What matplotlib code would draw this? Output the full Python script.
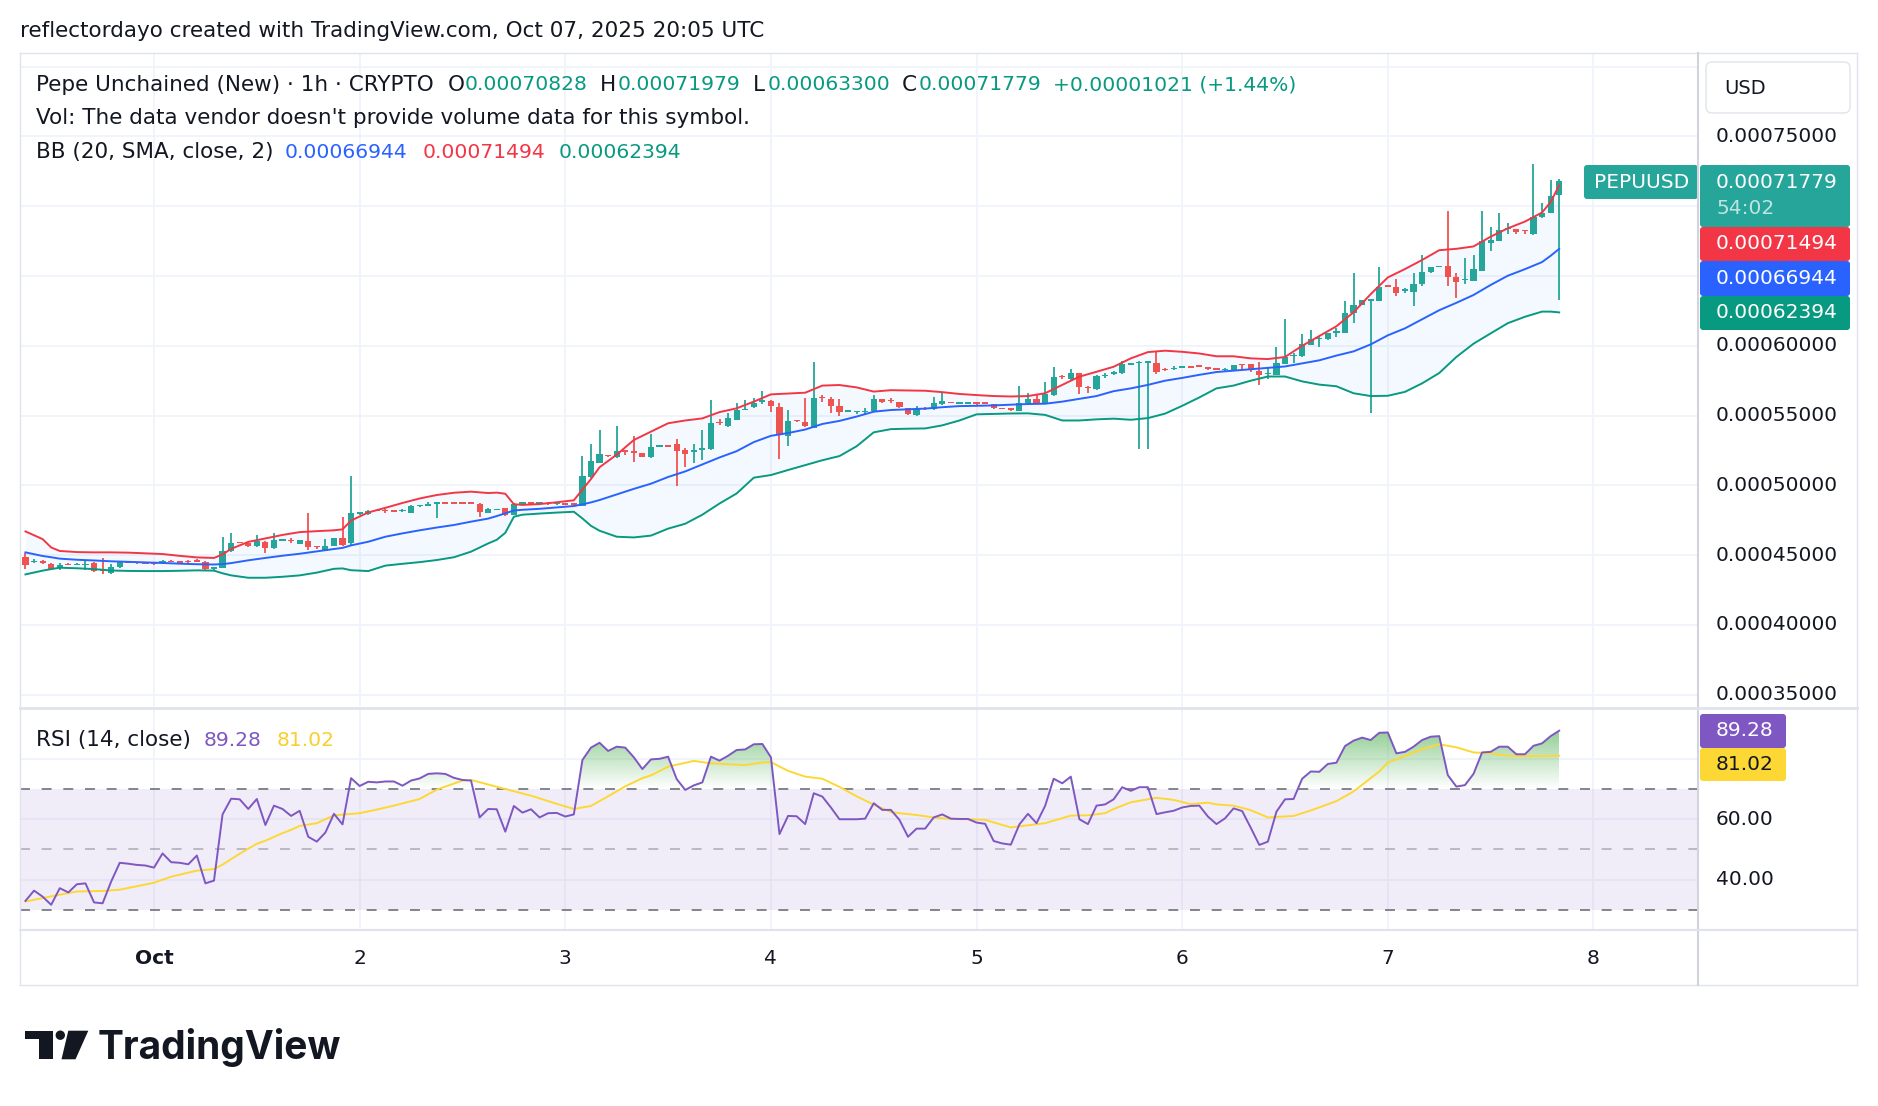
import numpy as np
import pandas as pd
import matplotlib
matplotlib.use("Agg")
import matplotlib.pyplot as plt
import matplotlib.dates as mdates
from matplotlib.patches import FancyBboxPatch, Polygon, Circle, PathPatch
from matplotlib.path import Path
from matplotlib.lines import Line2D
from matplotlib.transforms import IdentityTransform, blended_transform_factory

plt.rcParams["font.family"] = ["DejaVu Sans"]

# hourly PEPUUSD bars from 2025-09-30 09:00 UTC, prices in units of 1e-5 USD
opens = [44.89, 44.50, 44.58, 44.38, 44.08, 44.36, 44.33, 44.30, 44.41, 43.93,
         43.69, 44.12, 44.53, 44.50, 44.46, 44.45, 44.45, 44.58, 44.55, 44.58,
         44.65, 44.53, 44.05, 44.10, 45.30, 45.94, 45.84, 45.65, 45.96, 45.49,
         46.06, 46.06, 45.80, 46.01, 45.63, 45.32, 45.68, 46.20, 45.84, 47.97,
         47.95, 48.22, 48.22, 48.18, 48.18, 48.04, 48.52, 48.58, 48.66, 48.76,
         48.74, 48.75, 48.74, 48.66, 48.04, 48.28, 48.35, 47.87, 48.68, 48.74,
         48.70, 48.74, 48.68, 48.72, 48.68, 48.54, 50.57, 51.62, 52.17, 52.00,
         52.50, 52.48, 52.29, 52.00, 52.80, 52.84, 52.96, 52.53, 52.41, 52.53,
         52.60, 54.52, 54.27, 54.68, 55.42, 55.59, 56.04, 56.04, 55.64, 53.53,
         54.66, 54.54, 54.13, 56.32, 56.16, 55.68, 55.31, 55.26, 55.23, 55.35,
         56.19, 56.09, 55.95, 55.52, 55.04, 55.54, 55.44, 55.80, 55.95, 55.90,
         55.90, 55.94, 55.94, 55.83, 55.52, 55.50, 55.35, 55.87, 56.16, 55.87,
         56.47, 57.81, 57.59, 58.02, 57.07, 56.88, 57.84, 58.05, 58.02, 58.67,
         58.79, 58.80, 58.74, 58.33, 58.36, 58.48, 58.52, 58.57, 58.45, 58.36,
         58.29, 58.22, 58.69, 58.67, 58.22, 57.98, 57.90, 58.70, 59.30, 59.27,
         60.06, 60.50, 60.46, 60.89, 60.94, 62.33, 62.92, 63.24, 63.24, 64.31,
         64.24, 63.98, 63.88, 64.43, 65.27, 65.65, 65.72, 64.96, 64.74, 64.67,
         65.39, 67.34, 67.54, 68.38, 68.35, 68.27, 67.99, 69.21, 69.54, 70.828]
highs = [45.13, 44.70, 44.65, 44.41, 44.41, 44.41, 44.41, 44.65, 44.53, 44.77,
         44.36, 44.58, 44.56, 44.53, 44.50, 44.53, 44.65, 44.62, 44.58, 44.62,
         44.70, 44.58, 44.15, 46.32, 46.61, 45.96, 45.88, 46.44, 46.00, 46.61,
         46.12, 46.20, 46.12, 47.99, 45.65, 46.15, 46.25, 47.76, 50.70, 48.10,
         48.25, 48.26, 48.28, 48.22, 48.28, 48.58, 48.62, 48.83, 48.83, 48.80,
         48.78, 48.78, 48.78, 48.72, 48.35, 48.32, 48.40, 48.72, 48.80, 48.80,
         48.78, 48.78, 48.75, 48.76, 48.74, 52.10, 52.96, 53.96, 52.20, 54.25,
         52.53, 53.53, 52.32, 53.68, 52.88, 52.88, 53.32, 52.65, 52.96, 53.96,
         56.11, 54.78, 55.16, 55.92, 56.11, 56.23, 56.76, 56.11, 55.87, 55.40,
         54.70, 56.23, 58.86, 56.47, 56.30, 56.16, 55.38, 55.33, 55.52, 56.47,
         56.22, 56.28, 55.98, 55.55, 55.68, 55.59, 56.30, 56.59, 55.98, 55.97,
         55.97, 55.99, 55.96, 55.86, 55.54, 55.52, 57.12, 56.59, 56.47, 57.43,
         58.45, 57.90, 58.31, 58.05, 57.12, 57.90, 58.02, 58.22, 58.93, 58.79,
         58.88, 58.88, 59.58, 58.38, 58.55, 58.57, 58.55, 58.60, 58.48, 58.38,
         58.38, 58.65, 58.71, 58.70, 58.86, 58.38, 59.94, 61.90, 59.46, 60.85,
         61.13, 60.70, 60.92, 61.25, 63.21, 65.19, 63.30, 63.36, 65.62, 64.33,
         64.76, 64.12, 65.19, 66.51, 65.65, 65.72, 69.66, 65.24, 66.27, 66.51,
         69.66, 68.49, 69.49, 68.78, 68.38, 68.29, 73.03, 70.21, 71.88, 71.979]
lows = [43.98, 44.43, 44.36, 43.98, 43.93, 44.29, 44.29, 43.93, 43.81, 43.62,
        43.65, 44.10, 44.45, 44.34, 44.38, 44.29, 44.34, 44.48, 44.43, 44.43,
        44.50, 43.86, 43.93, 44.05, 45.25, 45.87, 45.60, 45.60, 45.18, 45.44,
        46.04, 45.89, 45.77, 45.37, 45.44, 45.30, 45.65, 45.65, 45.72, 47.90,
        47.90, 48.15, 48.05, 48.12, 48.10, 48.00, 48.48, 48.55, 47.64, 48.68,
        48.68, 48.66, 48.64, 47.76, 48.00, 48.22, 47.80, 47.85, 48.62, 48.62,
        48.64, 48.62, 48.60, 48.60, 48.54, 48.50, 50.50, 51.57, 52.00, 51.93,
        52.17, 51.69, 52.00, 51.96, 52.75, 52.76, 49.95, 51.34, 51.62, 51.81,
        52.55, 54.32, 54.20, 54.65, 55.40, 55.52, 55.80, 55.28, 51.91, 52.82,
        54.55, 54.20, 54.08, 55.99, 55.21, 54.97, 55.28, 55.11, 55.11, 55.33,
        55.92, 55.87, 55.55, 55.05, 54.99, 55.40, 55.40, 55.75, 55.87, 55.87,
        55.87, 55.75, 55.87, 55.49, 55.45, 55.35, 55.33, 55.83, 55.87, 55.85,
        56.42, 57.59, 57.55, 56.54, 56.64, 56.83, 57.67, 57.90, 57.98, 58.62,
        52.60, 52.60, 57.95, 58.22, 58.26, 58.38, 58.45, 58.50, 58.28, 58.28,
        58.22, 58.20, 58.26, 58.14, 57.19, 57.59, 57.88, 58.68, 58.74, 59.22,
        60.04, 59.89, 60.44, 60.61, 60.92, 61.66, 62.90, 55.16, 63.22, 64.24,
        63.57, 63.76, 62.88, 64.31, 65.24, 65.62, 64.31, 63.45, 64.43, 64.65,
        65.37, 66.82, 67.52, 67.99, 67.99, 67.99, 67.97, 69.14, 69.52, 63.300]
closes = [44.29, 44.60, 44.41, 44.03, 44.29, 44.33, 44.36, 44.36, 43.86, 43.86,
          44.12, 44.53, 44.48, 44.46, 44.43, 44.41, 44.60, 44.53, 44.46, 44.48,
          44.53, 43.98, 44.12, 45.30, 45.84, 45.90, 45.65, 46.04, 45.49, 46.08,
          46.10, 46.01, 46.08, 45.56, 45.58, 45.65, 46.20, 45.72, 48.04, 48.05,
          48.19, 48.20, 48.16, 48.16, 48.23, 48.52, 48.58, 48.60, 48.78, 48.72,
          48.71, 48.70, 48.70, 48.11, 48.28, 48.29, 47.87, 48.66, 48.76, 48.70,
          48.74, 48.68, 48.70, 48.64, 48.64, 50.67, 51.74, 52.22, 52.12, 52.48,
          52.46, 52.29, 52.05, 52.72, 52.84, 52.82, 52.48, 52.24, 52.53, 52.70,
          54.49, 54.47, 54.80, 55.40, 55.47, 55.92, 56.07, 55.68, 53.63, 54.61,
          54.61, 54.25, 56.23, 56.28, 55.71, 55.28, 55.35, 55.30, 55.33, 56.19,
          55.95, 56.05, 55.59, 55.09, 55.44, 55.50, 55.87, 56.04, 55.90, 55.94,
          55.94, 55.90, 55.90, 55.52, 55.48, 55.46, 55.92, 56.19, 55.92, 56.54,
          57.74, 57.77, 58.02, 57.02, 56.95, 57.83, 57.88, 58.09, 58.67, 58.71,
          58.84, 58.85, 58.10, 58.29, 58.40, 58.52, 58.48, 58.53, 58.31, 58.32,
          58.33, 58.62, 58.65, 58.31, 57.90, 58.04, 58.74, 59.17, 59.34, 60.13,
          60.46, 60.54, 60.89, 61.08, 62.38, 62.92, 63.28, 63.33, 64.24, 64.27,
          63.81, 64.02, 64.43, 65.27, 65.62, 65.69, 64.91, 64.60, 64.78, 65.48,
          67.51, 67.58, 68.30, 68.42, 68.18, 68.23, 69.21, 69.54, 70.758, 71.779]

# Bollinger Bands (20, 2) read at these bar numbers
bb_bar = [0, 2, 3, 4, 6, 8, 10, 12, 14, 16,
          18, 20, 22, 23, 24, 26, 28, 30, 32, 34,
          36, 37, 38, 40, 42, 44, 46, 48, 50, 52,
          54, 55, 56, 57, 58, 60, 62, 64, 65, 66,
          67, 69, 71, 73, 75, 77, 79, 81, 83, 85,
          87, 89, 91, 93, 95, 97, 99, 101, 103, 105,
          107, 109, 111, 113, 115, 117, 119, 121, 123, 125,
          127, 129, 131, 133, 135, 137, 139, 141, 143, 145,
          147, 149, 151, 153, 155, 157, 159, 161, 163, 165,
          167, 169, 171, 173, 175, 177, 178, 179]
bb_upper = [46.70, 46.15, 45.55, 45.30, 45.22, 45.20, 45.20, 45.18, 45.13, 45.08,
            44.95, 44.84, 44.80, 45.05, 45.45, 45.95, 46.20, 46.45, 46.65, 46.72,
            46.78, 46.85, 47.48, 48.06, 48.39, 48.74, 49.06, 49.31, 49.47, 49.55,
            49.45, 49.48, 49.40, 48.65, 48.60, 48.66, 48.79, 48.93, 49.70, 50.45,
            51.30, 52.20, 53.25, 53.85, 54.45, 54.65, 54.80, 55.25, 55.52, 56.00,
            56.52, 56.58, 56.64, 57.15, 57.19, 57.02, 56.72, 56.82, 56.80, 56.78,
            56.68, 56.55, 56.47, 56.40, 56.37, 56.40, 56.60, 57.20, 57.79, 58.14,
            58.50, 59.10, 59.55, 59.65, 59.57, 59.45, 59.25, 59.25, 59.10, 59.05,
            59.20, 60.00, 60.70, 61.40, 62.40, 63.70, 64.90, 65.50, 66.15, 66.85,
            66.95, 67.12, 67.82, 68.42, 68.90, 69.55, 70.30, 71.494]
bb_basis = [45.20, 44.94, 44.85, 44.75, 44.67, 44.62, 44.56, 44.52, 44.48, 44.44,
            44.39, 44.35, 44.33, 44.36, 44.43, 44.63, 44.80, 44.96, 45.10, 45.27,
            45.44, 45.52, 45.70, 45.96, 46.32, 46.56, 46.78, 46.98, 47.16, 47.40,
            47.62, 47.80, 48.00, 48.20, 48.25, 48.32, 48.42, 48.52, 48.64, 48.78,
            48.95, 49.35, 49.75, 50.12, 50.60, 51.00, 51.50, 52.00, 52.45, 53.10,
            53.55, 53.75, 54.00, 54.40, 54.62, 54.93, 55.28, 55.40, 55.45, 55.50,
            55.60, 55.68, 55.70, 55.73, 55.78, 55.83, 55.85, 56.00, 56.20, 56.40,
            56.75, 56.95, 57.20, 57.50, 57.70, 57.92, 58.12, 58.22, 58.32, 58.42,
            58.52, 58.74, 58.96, 59.30, 59.60, 60.10, 60.75, 61.25, 61.90, 62.55,
            63.08, 63.64, 64.36, 65.02, 65.49, 66.00, 66.45, 66.944]
bb_lower = [43.62, 43.89, 44.00, 44.10, 44.06, 44.00, 43.90, 43.87, 43.86, 43.86,
            43.88, 43.91, 43.89, 43.70, 43.55, 43.38, 43.38, 43.45, 43.55, 43.75,
            44.02, 44.05, 43.92, 43.86, 44.25, 44.38, 44.50, 44.65, 44.85, 45.25,
            45.84, 46.10, 46.60, 47.75, 47.90, 47.98, 48.05, 48.11, 47.63, 47.10,
            46.75, 46.32, 46.27, 46.40, 46.90, 47.25, 47.90, 48.70, 49.42, 50.55,
            50.74, 51.10, 51.45, 51.80, 52.10, 52.80, 53.80, 54.03, 54.06, 54.08,
            54.30, 54.65, 55.09, 55.12, 55.15, 55.16, 55.05, 54.65, 54.65, 54.73,
            54.78, 54.70, 54.82, 55.14, 55.70, 56.30, 56.95, 57.15, 57.50, 57.80,
            57.80, 57.45, 57.22, 57.10, 56.60, 56.40, 56.42, 56.70, 57.31, 58.05,
            59.20, 60.15, 60.89, 61.62, 62.08, 62.45, 62.45, 62.394]

# RSI(14) per bar, and its moving average read at these bar numbers
rsi = [33.0, 36.4, 34.4, 31.7, 37.2, 35.8, 38.5, 38.8, 32.5, 32.2,
       39.4, 45.6, 45.3, 44.9, 44.7, 44.0, 48.7, 45.8, 45.6, 45.1,
       48.0, 38.8, 39.7, 61.6, 66.8, 66.6, 63.4, 66.7, 58.1, 64.5,
       63.4, 61.1, 62.8, 54.2, 52.6, 55.6, 61.8, 58.3, 73.6, 71.0,
       72.4, 72.2, 72.5, 72.5, 71.1, 72.8, 73.5, 75.0, 75.2, 75.0,
       73.7, 73.0, 72.8, 60.6, 63.4, 63.3, 55.9, 64.4, 62.2, 63.3,
       60.6, 62.0, 62.1, 60.9, 61.6, 79.6, 83.7, 85.3, 82.6, 84.0,
       83.7, 80.5, 76.6, 79.8, 80.0, 80.7, 73.3, 69.7, 71.2, 72.2,
       80.7, 79.4, 81.0, 82.9, 83.1, 84.8, 84.9, 80.5, 55.1, 61.1,
       61.0, 58.4, 68.6, 67.5, 63.9, 60.0, 60.0, 60.0, 60.2, 65.3,
       63.1, 63.1, 59.8, 54.2, 56.9, 56.9, 60.6, 61.6, 60.2, 60.1,
       60.1, 58.9, 58.5, 52.8, 52.0, 51.6, 58.3, 61.8, 58.7, 64.4,
       73.4, 71.9, 74.1, 60.0, 58.4, 64.5, 64.9, 66.6, 70.6, 69.4,
       70.6, 70.6, 61.7, 62.3, 62.8, 63.9, 64.4, 64.5, 60.9, 58.4,
       60.3, 63.6, 62.7, 57.2, 51.5, 52.6, 62.5, 66.6, 66.7, 73.4,
       75.8, 75.7, 78.3, 78.7, 84.2, 86.0, 87.0, 86.2, 88.6, 88.7,
       81.8, 82.3, 84.0, 86.2, 87.3, 87.5, 74.6, 70.8, 71.3, 75.0,
       82.1, 82.3, 84.0, 84.0, 81.5, 81.5, 84.3, 85.1, 87.5, 89.28]
ma_bar = [0, 3, 6, 9, 11, 15, 17, 20, 22, 23,
          25, 27, 28, 30, 31, 32, 34, 36, 39, 41,
          43, 46, 48, 51, 52, 56, 59, 62, 64, 66,
          68, 70, 72, 73, 75, 78, 80, 82, 84, 86,
          87, 89, 91, 93, 95, 97, 99, 101, 102, 104,
          106, 108, 110, 112, 115, 117, 119, 122, 124, 126,
          127, 129, 132, 134, 136, 138, 139, 141, 143, 145,
          148, 150, 153, 155, 158, 159, 161, 163, 165, 167,
          169, 171, 173, 175, 177, 179]
rsi_ma = [32.8, 34.5, 36.1, 36.3, 36.7, 39.0, 41.0, 43.0, 43.5, 45.0,
          48.6, 51.9, 52.9, 55.4, 56.5, 57.8, 58.7, 61.3, 62.0, 63.2,
          64.5, 66.7, 69.8, 72.8, 73.0, 70.0, 67.8, 65.1, 63.4, 64.4,
          67.6, 70.9, 73.6, 74.5, 77.4, 79.3, 78.5, 78.2, 77.9, 78.8,
          78.9, 76.0, 74.1, 73.4, 70.7, 67.6, 64.8, 62.4, 62.0, 61.4,
          60.6, 60.1, 60.0, 59.8, 57.3, 58.0, 58.7, 61.2, 61.3, 62.0,
          63.4, 65.6, 67.1, 66.4, 65.0, 65.5, 64.9, 64.5, 63.0, 60.6,
          61.1, 62.9, 66.0, 69.2, 75.8, 78.8, 80.9, 83.2, 84.8, 83.8,
          82.1, 81.8, 81.0, 80.9, 80.9, 81.02]

day_labels = ["Oct", "2", "3", "4", "5", "6", "7", "8"]
price_grid = [35, 40, 45, 50, 55, 60, 65, 70, 75, 80]
price_labels = [35, 40, 45, 50, 55, 60, 75]

# ---------------------------------------------------------------------------
W, H = 1878, 1106
TXT = "#131722"
GRID = "#F0F3FA"
BORDER = "#E0E3EB"
UP, DOWN = "#26A69A", "#EF5350"
PIX = IdentityTransform()
FS_TXT, FS_NUM = 15.5, 14.6

fig = plt.figure(figsize=(W / 100, H / 100), dpi=100, facecolor="white")


def ftext(x, y, s, **kw):
    kw.setdefault("color", TXT)
    kw.setdefault("va", "center")
    kw.setdefault("fontsize", FS_TXT)
    return fig.text(x / W, 1 - y / H, s, **kw)


def fline(x0, y0, x1, y1, color=BORDER, lw=1.0):
    fig.add_artist(Line2D([x0, x1], [H - y0, H - y1], transform=PIX, color=color, lw=lw))


def tag(x0, y0, x1, y1, color, edge="none", r=4):
    fig.add_artist(FancyBboxPatch((x0, H - y1), x1 - x0, y1 - y0,
                                  boxstyle=f"round,pad=0,rounding_size={r}",
                                  transform=PIX, facecolor=color, edgecolor=edge, lw=1))


L, R = 20, 1698
ax = fig.add_axes([L / W, 1 - 707 / H, (R - L) / W, (707 - 53) / H])
ax2 = fig.add_axes([L / W, 1 - 929 / H, (R - L) / W, (929 - 708) / H])

times = pd.date_range("2025-09-30 09:00", periods=len(closes), freq="h")
xs = mdates.date2num(times)
hr = 1 / 24
oct1 = mdates.date2num(pd.Timestamp("2025-10-01"))
xlim = (oct1 - 15.64 * hr, oct1 + 180.2 * hr)

o = np.array(opens) * 1e-5
h = np.array(highs) * 1e-5
l = np.array(lows) * 1e-5
c = np.array(closes) * 1e-5
cols = np.where(c >= o, UP, DOWN)

for a in (ax, ax2):
    for s in a.spines.values():
        s.set_visible(False)
    a.set_xticks([])
    a.set_yticks([])
    for d in range(len(day_labels)):
        a.axvline(oct1 + d, color=GRID, lw=1.3, zorder=0)

for p in price_grid:
    ax.axhline(p * 1e-5, color=GRID, lw=1.3, zorder=0)

# Bollinger bands
bx = xs[bb_bar]
up_b = np.array(bb_upper) * 1e-5
mid_b = np.array(bb_basis) * 1e-5
lo_b = np.array(bb_lower) * 1e-5
ax.fill_between(bx, lo_b, up_b, color="#2196F3", alpha=0.05, lw=0, zorder=1)

# candles
ax.vlines(xs, l, h, colors=cols, lw=1.3, zorder=3)
min_h = 0.11e-5
body_h = np.abs(c - o)
body_lo = np.where(body_h < min_h, (o + c) / 2 - min_h / 2, np.minimum(o, c))
ax.bar(xs, np.maximum(body_h, min_h), bottom=body_lo, width=0.72 * hr,
       color=cols, lw=0, zorder=3)

ax.plot(bx, up_b, color="#F23645", lw=1.4, zorder=4)
ax.plot(bx, mid_b, color="#2962FF", lw=1.4, zorder=4)
ax.plot(bx, lo_b, color="#089981", lw=1.4, zorder=4)

ax.set_xlim(xlim)
ax.set_ylim(34.12e-5, 80.98e-5)

# RSI pane
r = np.array(rsi)
for g in (40, 60, 80):
    ax2.axhline(g, color=GRID, lw=1.3, zorder=0)
ax2.axhspan(30, 70, color="#7E57C2", alpha=0.1, lw=0, zorder=0.5)
for lvl, al in ((70, 1.0), (50, 0.5), (30, 1.0)):
    ax2.axhline(lvl, color="#787B86", alpha=al, lw=1.3, ls=(0, (5.5, 6.5)), zorder=1)

poly = ax2.fill_between(xs, 70, r, where=r >= 70, interpolate=True,
                        facecolor="none", edgecolor="none")
clip = PathPatch(Path.make_compound_path(*poly.get_paths()),
                 facecolor="none", edgecolor="none")
ax2.add_patch(clip)
grad = np.zeros((256, 1, 4))
grad[..., 0] = 76 / 255
grad[..., 1] = 175 / 255
grad[..., 2] = 80 / 255
grad[:, 0, 3] = np.linspace(0.0, 0.95, 256)
im = ax2.imshow(grad, extent=(xs[0], xs[-1], 70, 100), origin="lower",
                aspect="auto", interpolation="bilinear", zorder=2)
im.set_clip_path(clip)

ax2.plot(xs[ma_bar], rsi_ma, color="#FDD835", lw=1.4, zorder=3)
ax2.plot(xs, r, color="#7E57C2", lw=1.4, zorder=4)
ax2.set_xlim(xlim)
ax2.set_ylim(23.7, 96.8)

# axis labels
lab_x = 1 + (1716 - R) / (R - L)
for p in price_labels:
    ax.text(lab_x, p * 1e-5, f"{p * 1e-5:.8f}", transform=ax.get_yaxis_transform(),
            va="center", ha="left", fontsize=14.5, color=TXT, clip_on=False)
for v in (60, 40):
    ax2.text(lab_x, v, f"{v:.2f}", transform=ax2.get_yaxis_transform(),
             va="center", ha="left", fontsize=14.5, color=TXT, clip_on=False)
tx = blended_transform_factory(ax2.transData, fig.transFigure)
for d, lab in enumerate(day_labels):
    fig.text(oct1 + d, 1 - 959 / H, lab, transform=tx, ha="center", va="center",
             fontsize=14.5, color=TXT, fontweight="bold" if d == 0 else "normal")

# frame
fline(20, 53, 1857, 53)
fline(20, 53, 20, 985)
fline(1857, 53, 1857, 985)
fline(20, 985, 1857, 985)
fline(R, 53, R, 985, color="#D1D4DC", lw=1.5)
fline(20, 708, 1857, 708, lw=2)
fline(20, 930, 1857, 930, lw=1.5)

# header and legends
ftext(20, 31, "reflectordayo created with TradingView.com, Oct 07, 2025 20:05 UTC")
ftext(36, 85, "Pepe Unchained (New) \u00b7 1h \u00b7 CRYPTO")
VAL = "#089981"
for lab, xl, val, xv in (("O", 448, o[-1], 465), ("H", 600, h[-1], 618),
                         ("L", 753, l[-1], 768), ("C", 902, c[-1], 919)):
    ftext(xl, 85, lab)
    ftext(xv, 85, f"{val:.8f}", color=VAL, fontsize=FS_NUM)
chg = c[-1] - c[-2]
ftext(1053, 85, f"{chg:+.8f} ({chg / c[-2] * 100:+.2f}%)", color=VAL, fontsize=FS_NUM)
ftext(36, 118, "Vol: The data vendor doesn't provide volume data for this symbol.")
ftext(36, 152, "BB (20, SMA, close, 2)")
ftext(285, 152, f"{mid_b[-1]:.8f}", color="#2962FF", fontsize=FS_NUM)
ftext(423, 152, f"{up_b[-1]:.8f}", color="#F23645", fontsize=FS_NUM)
ftext(559, 152, f"{lo_b[-1]:.8f}", color="#089981", fontsize=FS_NUM)
ftext(36, 740, "RSI (14, close)")
ftext(204, 740, f"{r[-1]:.2f}", color="#7E57C2", fontsize=FS_NUM)
ftext(277, 740, f"{rsi_ma[-1]:.2f}", color="#F9CF2B", fontsize=FS_NUM)

# price scale tags
tag(1706, 62, 1850, 113, "white", edge=BORDER, r=6)
ftext(1724, 88, "USD", fontsize=14)
tag(1584, 165, 1698, 199, UP, r=3)
ftext(1594, 182, "PEPUUSD", color="white", fontsize=14.5)
tag(1700, 165, 1850, 227, UP, r=3)
ftext(1716, 182, f"{c[-1]:.8f}", color="white", fontsize=14.5)
ftext(1716, 209, "54:02", color=(1, 1, 1, 0.7), fontsize=14.5)
tag(1700, 227, 1850, 261, "#F23645", r=3)
ftext(1716, 244, f"{up_b[-1]:.8f}", color="white", fontsize=14.5)
tag(1700, 261, 1850, 296, "#2962FF", r=3)
ftext(1716, 279, f"{mid_b[-1]:.8f}", color="white", fontsize=14.5)
tag(1700, 296, 1850, 330, "#089981", r=3)
ftext(1716, 313, f"{lo_b[-1]:.8f}", color="white", fontsize=14.5)
tag(1700, 714, 1786, 748, "#7E57C2", r=3)
ftext(1716, 731, f"{r[-1]:.2f}", color="white", fontsize=14.5)
tag(1700, 748, 1786, 781, "#FDD835", r=3)
ftext(1716, 765, f"{rsi_ma[-1]:.2f}", color=TXT, fontsize=14.5)

# TradingView logo
LOGO = "#131722"
fig.add_artist(Polygon([(25, H - 1030.7), (53.3, H - 1030.7), (53.3, H - 1059.3),
                        (39.3, H - 1059.3), (39.3, H - 1039.3), (25, H - 1039.3)],
                       closed=True, transform=PIX, facecolor=LOGO, edgecolor="none"))
fig.add_artist(Circle((60.3, H - 1035.2), 4.7, transform=PIX, facecolor=LOGO, edgecolor="none"))
fig.add_artist(Polygon([(68.3, H - 1030.7), (88.3, H - 1030.7), (75.5, H - 1059.3),
                        (61.5, H - 1059.3)],
                       closed=True, transform=PIX, facecolor=LOGO, edgecolor="none"))
fig.text(98 / W, 1 - 1059 / H, "TradingView", fontsize=28, fontweight="bold",
         family=["Inter", "DejaVu Sans"], color=LOGO, va="baseline", ha="left")

fig.savefig("out.png", dpi=100, facecolor="white")
